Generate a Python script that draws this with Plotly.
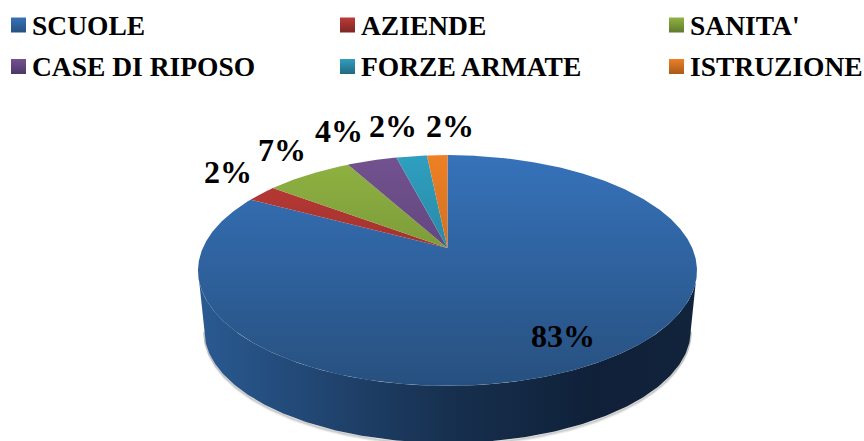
import numpy as np
import plotly.graph_objects as go

categories = ["SCUOLE", "AZIENDE", "SANITA'", "CASE DI RIPOSO", "FORZE ARMATE", "ISTRUZIONE"]
values = [82.9, 2.4, 6.8, 3.9, 2.4, 1.6]
top_colors = ["#3672ba", "#bd3b36", "#90b342", "#72528f", "#2f9fc0", "#ee8025"]
bottom_colors = ["#27507f", "#7d2624", "#5f7a2d", "#4c3768", "#216a80", "#a85a1a"]

# pie geometry in pixels, with a bit of perspective so the far side looks smaller
CX, CY = 447.5, 248.0
A, B, K = 244.7, 111.0, 0.195
BASE_SCALE, BASE_DROP = 0.975, 60.5
FONT = "Liberation Serif"


def rim(theta, scale=1.0, drop=0.0):
    w = 1 + K * np.cos(theta)
    return CX + scale * A * np.sin(theta) / w, CY + drop - scale * B * np.cos(theta) / w


fig = go.Figure()

# side wall, only the front half shows
t_left = np.arccos(-K)
arc = np.linspace(t_left, 2 * np.pi - t_left, 200)
x_top, y_top = rim(arc)
x_base, y_base = rim(arc, BASE_SCALE, BASE_DROP)

# soft edge below the wall
for extra, alpha in [(3.0, 0.08), (2.0, 0.14), (1.0, 0.22)]:
    gx, gy = rim(arc, BASE_SCALE, BASE_DROP + extra)
    fig.add_trace(go.Scatter(x=gx, y=gy, mode="lines", line=dict(color=f"rgba(90,90,90,{alpha})", width=2),
                             hoverinfo="skip", showlegend=False))

fig.add_trace(go.Scatter(
    x=np.concatenate([x_top, x_base[::-1]]), y=np.concatenate([y_top, y_base[::-1]]),
    mode="lines", line=dict(width=0), fill="toself", hoverinfo="skip", showlegend=False,
    fillgradient=dict(type="horizontal", start=198, stop=697,
                      colorscale=[[0, "#2a5a92"], [0.5, "#17304f"], [0.8, "#0f2038"], [1, "#12233c"]]),
))

# top face
edges = np.cumsum([0] + values) / sum(values) * 2 * np.pi
for i, name in enumerate(categories):
    t = np.linspace(edges[i], edges[i + 1], max(int(values[i] * 8), 6))
    rx, ry = rim(t)
    fig.add_trace(go.Scatter(
        x=np.concatenate([[CX], rx, [CX]]), y=np.concatenate([[CY], ry, [CY]]),
        mode="lines", line=dict(width=0), fill="toself", name=name, hoverinfo="name", showlegend=False,
        fillgradient=dict(type="vertical", start=155, stop=386,
                          colorscale=[[0, top_colors[i]], [1, bottom_colors[i]]]),
    ))

# percentage labels
label_x = [563, 227.5, 281.5, 338.5, 392.5, 450]
label_y = [336, 172, 150, 131, 126, 126]
for v, lx, ly in zip(values, label_x, label_y):
    fig.add_annotation(x=lx, y=ly, text=f"{round(v)}%", showarrow=False,
                       font=dict(family=FONT, size=32, color="#000000", weight="bold"))

# legend laid out by hand, three columns and two rows
swatch_x = [18.5, 347.5, 676.5, 18.5, 347.5, 676.5]
swatch_y = [25, 25, 25, 66.5, 66.5, 66.5]
for i, name in enumerate(categories):
    fig.add_trace(go.Scatter(
        x=[swatch_x[i]], y=[swatch_y[i]], mode="markers", hoverinfo="skip", showlegend=False,
        marker=dict(symbol="square", size=15, color=top_colors[i], line=dict(width=0),
                    gradient=dict(type="vertical", color=bottom_colors[i])),
    ))
    fig.add_annotation(x=swatch_x[i] + 11.5, y=swatch_y[i], text=name, showarrow=False, xanchor="left",
                       font=dict(family=FONT, size=27.5, color="#000000", weight="bold"))

fig.update_layout(
    width=864, height=441, margin=dict(l=0, r=0, t=0, b=0),
    paper_bgcolor="white", plot_bgcolor="white", showlegend=False,
    xaxis=dict(range=[0, 864], visible=False, fixedrange=True),
    yaxis=dict(range=[441, 0], visible=False, fixedrange=True),
)
fig.write_html("out.html", config=dict(displayModeBar=False),
               post_script="document.body.style.margin='0';document.body.style.overflow='hidden';")
